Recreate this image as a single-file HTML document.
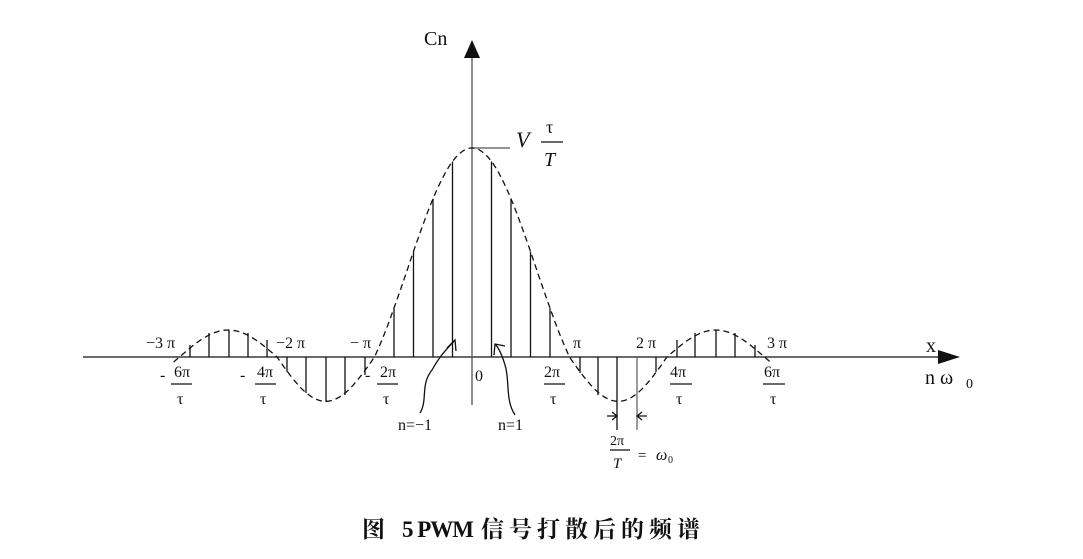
<!DOCTYPE html>
<html><head><meta charset="utf-8"><style>
html,body{margin:0;padding:0;background:#fff;}
svg{display:block;}
text{font-family:"Liberation Serif","Noto Serif CJK SC",serif;fill:#111;}
</style></head><body>
<svg id="s" width="1083" height="559" viewBox="0 0 1083 559" xmlns="http://www.w3.org/2000/svg">
<g stroke="#111" fill="none" stroke-width="1.3">
<line x1="83" y1="357" x2="940" y2="357"/>
<line x1="472" y1="56" x2="472" y2="405" stroke="#555"/>
<line x1="472" y1="148" x2="510" y2="148" stroke="#555"/>
<g>
<line x1="491.5" y1="357" x2="491.5" y2="161.5"/><line x1="452.5" y1="357" x2="452.5" y2="161.5"/>
<line x1="511" y1="357" x2="511" y2="198.8"/><line x1="433" y1="357" x2="433" y2="198.8"/>
<line x1="530.5" y1="357" x2="530.5" y2="251.5"/><line x1="413.5" y1="357" x2="413.5" y2="251.5"/>
<line x1="550" y1="357" x2="550" y2="308.1"/><line x1="394" y1="357" x2="394" y2="308.1"/>
<line x1="580" y1="357" x2="580" y2="373"/><line x1="598" y1="357" x2="598" y2="395"/>
<line x1="656" y1="357" x2="656" y2="372"/>
<line x1="677" y1="357" x2="677" y2="340"/><line x1="695" y1="357" x2="695" y2="333"/>
<line x1="716" y1="357" x2="716" y2="330"/><line x1="735" y1="357" x2="735" y2="333"/>
<line x1="755" y1="357" x2="755" y2="345"/>
<line x1="287" y1="357" x2="287" y2="372"/><line x1="306" y1="357" x2="306" y2="393"/>
<line x1="326" y1="357" x2="326" y2="402"/><line x1="345" y1="357" x2="345" y2="395"/>
<line x1="365" y1="357" x2="365" y2="375"/>
<line x1="190" y1="357" x2="190" y2="345"/><line x1="209" y1="357" x2="209" y2="333"/>
<line x1="229" y1="357" x2="229" y2="330"/><line x1="248" y1="357" x2="248" y2="333"/>
<line x1="267" y1="357" x2="267" y2="340"/>
</g>
<path id="env" stroke-dasharray="6,4"/>
<path d="M420,413 C428,400 420,385 432,370 C440,355 448,348 455,340"/>
<path d="M447,348 L455,340 L456,351"/>
<path d="M515,415 C505,400 510,380 505,365 C502,355 499,348 495,344"/>
<path d="M494,355 L495,344 L505,346"/>
<line x1="617" y1="357" x2="617" y2="430"/>
<line x1="637" y1="357" x2="637" y2="430" stroke="#666"/>
<path d="M607,416 L617,416 M612,412 L617,416 L612,420"/>
<path d="M647,416 L637,416 M642,412 L637,416 L642,420"/>
<line x1="541" y1="142" x2="563" y2="142"/>
<line x1="171" y1="384" x2="192" y2="384"/><line x1="255" y1="384" x2="276" y2="384"/>
<line x1="377" y1="384" x2="398" y2="384"/><line x1="544" y1="384" x2="565" y2="384"/>
<line x1="670" y1="384" x2="692" y2="384"/><line x1="763" y1="384" x2="785" y2="384"/>
<line x1="610" y1="450" x2="630" y2="450"/>
</g>
<polygon points="472,40 464,58 480,58" fill="#111"/>
<polygon points="938,350 960,357 938,364" fill="#111"/>
<g font-size="16">
<text x="424" y="45" font-size="20">Cn</text>
<text x="516" y="147" font-size="22" font-style="italic">V</text>
<text x="546" y="133" font-size="18">τ</text>
<text x="544" y="166" font-size="20" font-style="italic">T</text>
<text x="146" y="348">−3 π</text>
<text x="276" y="348">−2 π</text>
<text x="350" y="348">− π</text>
<text x="573" y="348">π</text>
<text x="636" y="348">2 π</text>
<text x="767" y="348">3 π</text>
<text x="926" y="352" font-size="20">x</text>
<text x="925" y="384" font-size="20">n ω</text>
<text x="966" y="388" font-size="14">0</text>
<text x="475" y="381">0</text>
<text x="160" y="380">-</text><text x="174" y="377">6π</text><text x="177" y="404">τ</text>
<text x="240" y="380">-</text><text x="257" y="377">4π</text><text x="260" y="404">τ</text>
<text x="365" y="380">-</text><text x="380" y="377">2π</text><text x="383" y="404">τ</text>
<text x="544" y="377">2π</text><text x="550" y="404">τ</text>
<text x="670" y="377">4π</text><text x="676" y="404">τ</text>
<text x="764" y="377">6π</text><text x="770" y="404">τ</text>
<text x="398" y="430">n=−1</text>
<text x="498" y="430">n=1</text>
<text x="610" y="445" font-size="14">2π</text>
<text x="613" y="468" font-size="15" font-style="italic">T</text>
<text x="638" y="460" font-size="15">=</text>
<text x="656" y="460" font-size="16" font-style="italic">ω</text>
<text x="668" y="463" font-size="10">0</text>
</g>
<g font-size="23" font-weight="bold">
<text x="362" y="537">图</text>
<text x="402" y="537" textLength="72" lengthAdjust="spacing">5 PWM</text>
<text x="481" y="537" textLength="219" lengthAdjust="spacing">信号打散后的频谱</text>
</g>
<script>
(function(){
var cx=472,y0=357,A=209,dx=19.5;
function f(k){var ak=Math.abs(k);if(ak<1e-9)return 1;var a=Math.PI*k/5;
if(ak<5)return Math.sin(a)/a;
var s=Math.sin(Math.PI*ak/5);
return s*(ak<10?0.212:0.129);}
var d="";
for(var i=0;i<=600;i++){var k=-15.3+30.6*i/600;var x=cx+k*dx,y=y0-A*f(k);d+=(i?"L":"M")+x.toFixed(1)+","+y.toFixed(1);}
document.getElementById("env").setAttribute("d",d);
})();
</script>
</svg>
</body></html>
